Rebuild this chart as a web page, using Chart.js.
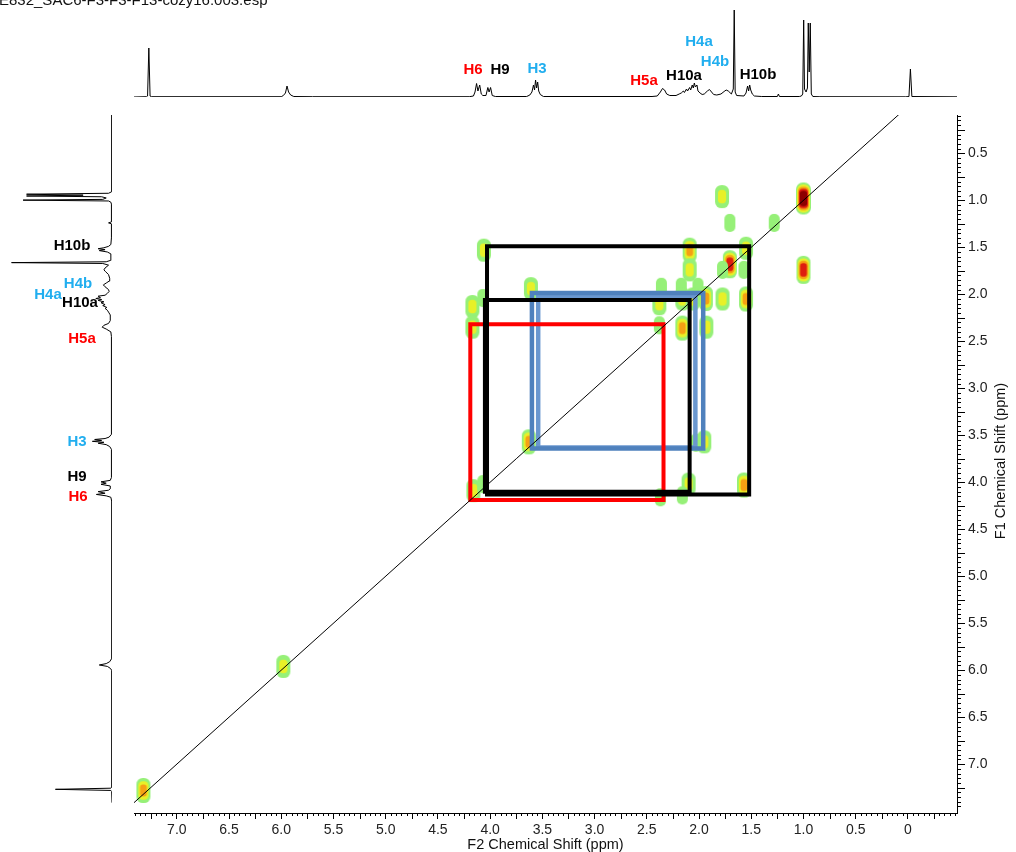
<!DOCTYPE html>
<html>
<head>
<meta charset="utf-8">
<script src="https://cdn.jsdelivr.net/npm/chart.js@4.4.1/dist/chart.umd.min.js"></script>
<style>
  html, body { margin: 0; padding: 0; background: #fff; }
  #wrap { position: relative; width: 1016px; height: 852px; overflow: hidden; }
  #wrap canvas { position: absolute; left: 0; top: 0; }
</style>
</head>
<body>
<div id="wrap">
  <canvas id="main" width="1016" height="852"></canvas>
  <canvas id="top" width="1016" height="100"></canvas>
  <canvas id="side" width="134" height="852"></canvas>
</div>
<script>
// axis ranges (ppm)
const F2_MIN = -0.47, F2_MAX = 7.41;
const F1_MIN = 0.092, F1_MAX = 7.52;

const xTicks = [7.0, 6.5, 6.0, 5.5, 5.0, 4.5, 4.0, 3.5, 3.0, 2.5, 2.0, 1.5, 1.0, 0.5, 0];
const yTicks = [0.5, 1.0, 1.5, 2.0, 2.5, 3.0, 3.5, 4.0, 4.5, 5.0, 5.5, 6.0, 6.5, 7.0];

// 1D projection (ppm, intensity)
const specPpm = [7.41, 7.29, 7.28, 7.268, 7.256, 7.245, 6.00, 5.98, 5.96, 5.945, 5.93, 5.91, 5.88, 5.70,
  4.20, 4.16, 4.145, 4.13, 4.117, 4.10, 4.085, 4.07, 4.04, 4.022, 4.01, 3.996, 3.98, 3.95,
  3.65, 3.62, 3.60, 3.585, 3.575, 3.565, 3.555, 3.545, 3.535, 3.52, 3.49,
  2.45, 2.40, 2.37, 2.35, 2.33, 2.31, 2.28, 2.22, 2.19, 2.17, 2.15, 2.14, 2.12, 2.11, 2.09, 2.08,
  2.065, 2.055, 2.045, 2.035, 2.02, 2.01, 1.99, 1.97, 1.95, 1.92, 1.90, 1.88, 1.86, 1.83,
  1.79, 1.76, 1.74, 1.72, 1.69, 1.672, 1.663, 1.654, 1.64, 1.57, 1.55, 1.535, 1.525, 1.515,
  1.505, 1.49, 1.47, 1.40, 1.25, 1.24, 1.23, 1.04, 1.02, 1.007, 0.998, 0.99, 0.975, 0.962,
  0.954, 0.945, 0.935, 0.925, 0.91, 0.85, 0.02, -0.01, -0.024, -0.038, -0.47];
const specInt = [0, 0.3, 1, 49, 1, 0.3, 0.3, 1.5, 4, 11, 5, 2, 0.5, 0.3,
  0.3, 1, 5, 13.5, 6, 12, 3, 1.5, 1.5, 9.5, 5, 9.5, 1.5, 0.5,
  0.5, 2, 5, 12, 7, 17, 9, 15, 6, 2.5, 0.5,
  0.5, 1, 5, 8.5, 7, 3, 1.5, 1.5, 3, 4, 6, 4.5, 8, 6, 9.5, 7,
  12, 9, 14, 10, 12, 6, 4, 2.5, 3, 6, 7.5, 5, 2.5, 2,
  3, 5.5, 7, 6, 3, 8, 87, 5, 1.5, 1, 4, 11, 6, 12,
  7, 3, 1, 0.5, 0.5, 3, 0.5, 0.5, 1, 3, 77, 8, 5, 9,
  74, 25, 74, 3, 0.5, 0.3, 0.2, 0.5, 28, 0.5, 0.2];

// COSY cross / diagonal peaks
const peakF2 = [1.00, 1.00, 1.705, 1.78, 1.705, 1.28, 2.09, 1.55, 4.06, 2.09, 1.775, 1.57, 2.36, 2.17,
  2.01, 2.38, 2.16, 2.06, 1.935, 1.775, 1.55, 3.61, 4.17, 4.07, 2.16, 1.93, 2.38, 4.17, 3.63,
  1.95, 2.03, 4.16, 4.07, 2.10, 2.16, 1.57, 2.37, 5.98, 7.32];
const peakF1 = [0.98, 1.74, 1.68, 0.96, 1.24, 1.24, 1.53, 1.51, 1.53, 1.74, 1.74, 1.74, 1.92, 1.92,
  1.92, 2.10, 2.05, 2.05, 2.045, 2.05, 2.05, 1.94, 2.13, 2.04, 2.36, 2.35, 2.33, 2.35, 3.57,
  3.57, 3.58, 4.09, 4.02, 4.02, 4.14, 4.03, 4.16, 5.96, 7.28];
const peakLevel = [5, 4, 4, 2, 1, 1, 3, 2, 2, 2, 1, 1, 1, 1,
  1, 2, 2, 2, 3, 2, 3, 2, 2, 1, 3, 2, 1, 2, 3,
  2, 1, 2, 1, 2, 1, 3, 1, 2, 3];

// coupling boxes (ppm)
const boxF2Left = [4.03, 4.05, 4.19, 3.60, 3.54];
const boxF2Right = [1.52, 2.09, 2.34, 1.96, 2.035];
const boxF1Top = [1.49, 2.06, 2.32, 1.985, 2.02];
const boxF1Bottom = [4.13, 4.10, 4.19, 3.64, 3.63];

const diagPpm = [7.41, 0.05];

const topLabels = ['H6', 'H9', 'H3', 'H4a', 'H4b', 'H5a', 'H10a', 'H10b'];
const sideLabels = ['H10b', 'H4b', 'H4a', 'H10a', 'H5a', 'H3', 'H9', 'H6'];

// ---- styles ----
const RED = '#ff0000', CYAN = '#21aeef', BLACK = '#000000';
const topLabelStyle = [[473, 70, RED], [500, 70, BLACK], [537, 69, CYAN], [699, 42, CYAN], [715, 62, CYAN],
  [644, 81, RED], [684, 76, BLACK], [758, 75, BLACK]];
const sideLabelStyle = [[72, 246, BLACK], [78, 284, CYAN], [48, 295, CYAN], [80, 303, BLACK], [82, 339, RED],
  [77, 442, CYAN], [77, 477, BLACK], [78, 497, RED]];
const boxColors = ['#000', '#000', '#ff0000', '#4f81bd', '#6a97cf'];
const boxWidths = [4, 4, 4, 4.5, 4.5];

const levelColors = ['rgb(150,240,120)', 'rgb(232,240,40)', 'rgb(245,160,20)', 'rgb(222,30,15)', 'rgb(140,0,0)'];
const blobW = [11, 14, 14, 14, 15], blobH = [18, 23, 25, 28, 32], blobStep = [0, 0.42, 0.26, 0.17, 0.13];

function makeBlob(level) {
  const w = blobW[level - 1], h = blobH[level - 1], step = blobStep[level - 1];
  const c = document.createElement('canvas');
  c.width = w + 2; c.height = h + 2;
  const g = c.getContext('2d');
  for (let k = 0; k < level; k++) {
    const s = 1 - k * step;
    const ww = w * s, hh = h * s;
    g.fillStyle = levelColors[k];
    g.beginPath();
    g.roundRect(c.width / 2 - ww / 2, c.height / 2 - hh / 2, ww, hh, Math.min(ww, hh) * 0.45);
    g.fill();
  }
  return c;
}
const blobs = [1, 2, 3, 4, 5].map(makeBlob);

const FONT = "'Liberation Sans', Arial, sans-serif";
const fmt = v => (v === 0 ? '0' : v.toFixed(1));

const decor = {
  id: 'decor',
  afterDraw(chart) {
    const { ctx, scales: { x, y }, chartArea: a } = chart;
    ctx.save();
    ctx.strokeStyle = '#000';
    ctx.lineWidth = 1;
    ctx.beginPath();
    for (let k = Math.ceil(F2_MIN / 0.05); k <= Math.floor(F2_MAX / 0.05); k++) {
      if (k % 10 === 0) continue;
      const px = Math.round(x.getPixelForValue(k * 0.05)) + 0.5;
      ctx.moveTo(px, a.bottom);
      ctx.lineTo(px, a.bottom + (k % 5 === 0 ? 6 : 3));
    }
    for (let k = Math.ceil(F1_MIN / 0.05); k <= Math.floor(F1_MAX / 0.05); k++) {
      if (k % 10 === 0) continue;
      const py = Math.round(y.getPixelForValue(k * 0.05)) + 0.5;
      ctx.moveTo(a.right, py);
      ctx.lineTo(a.right + (k % 5 === 0 ? 8 : 4), py);
    }
    ctx.stroke();

    ctx.fillStyle = '#111';
    ctx.font = '15px ' + FONT;
    ctx.textAlign = 'left';
    ctx.textBaseline = 'alphabetic';
    ctx.fillText('E832_SAC6-F3-F3-F13-cozy16.003.esp', -1, 5);

    ctx.font = '14.5px ' + FONT;
    ctx.textAlign = 'center';
    ctx.fillText('F2 Chemical Shift (ppm)', (a.left + a.right) / 2, 849);
    ctx.save();
    ctx.translate(1005, 461);
    ctx.rotate(-Math.PI / 2);
    ctx.fillText('F1 Chemical Shift (ppm)', 0, 0);
    ctx.restore();

    ctx.font = 'bold 15px ' + FONT;
    ctx.textBaseline = 'middle';
    topLabels.forEach((t, i) => {
      ctx.fillStyle = topLabelStyle[i][2];
      ctx.fillText(t, topLabelStyle[i][0], topLabelStyle[i][1]);
    });
    sideLabels.forEach((t, i) => {
      ctx.fillStyle = sideLabelStyle[i][2];
      ctx.fillText(t, sideLabelStyle[i][0], sideLabelStyle[i][1]);
    });
    ctx.restore();
  }
};

const boxSets = boxF2Left.map((l, i) => ({
  data: [
    { x: l, y: boxF1Top[i] }, { x: boxF2Right[i], y: boxF1Top[i] },
    { x: boxF2Right[i], y: boxF1Bottom[i] }, { x: l, y: boxF1Bottom[i] }, { x: l, y: boxF1Top[i] }
  ],
  showLine: true,
  borderColor: boxColors[i],
  borderWidth: boxWidths[i],
  borderCapStyle: 'square',
  borderJoinStyle: 'miter',
  pointRadius: 0,
  order: 1
}));

const common = {
  responsive: false,
  animation: false,
  events: [],
  plugins: { legend: { display: false }, tooltip: { enabled: false } }
};

new Chart(document.getElementById('main'), {
  type: 'scatter',
  data: {
    datasets: [
      {
        data: diagPpm.map(v => ({ x: v, y: v })),
        showLine: true, borderColor: '#000', borderWidth: 1, pointRadius: 0, order: 0
      },
      ...boxSets,
      {
        data: peakF2.map((x, i) => ({ x: x, y: peakF1[i], level: peakLevel[i] })),
        pointStyle: c => blobs[(c.raw ? c.raw.level : 1) - 1],
        pointRadius: 5,
        order: 2
      }
    ]
  },
  options: {
    ...common,
    layout: { padding: { left: 134, top: 115, right: 0, bottom: 0 } },
    scales: {
      x: {
        type: 'linear', position: 'bottom', min: F2_MIN, max: F2_MAX, reverse: true,
        afterFit: s => { s.height = 39; },
        afterBuildTicks: s => { s.ticks = xTicks.map(v => ({ value: v })); },
        grid: { drawOnChartArea: false, drawTicks: true, tickLength: 6, color: '#000' },
        border: { display: true, color: '#000', width: 1 },
        ticks: { padding: 3, color: '#222', font: { family: FONT, size: 14 }, maxRotation: 0, autoSkip: false, callback: v => fmt(v) }
      },
      y: {
        type: 'linear', position: 'right', min: F1_MIN, max: F1_MAX, reverse: true,
        afterFit: s => { s.width = 59; },
        afterBuildTicks: s => { s.ticks = yTicks.map(v => ({ value: v })); },
        grid: { drawOnChartArea: false, drawTicks: true, tickLength: 8, color: '#000' },
        border: { display: true, color: '#000', width: 1 },
        ticks: { padding: 3, color: '#222', font: { family: FONT, size: 14 }, autoSkip: false, callback: v => fmt(v) }
      }
    }
  },
  plugins: [decor]
});

// top projection
new Chart(document.getElementById('top'), {
  type: 'scatter',
  data: {
    datasets: [{
      data: specPpm.map((p, i) => ({ x: p, y: specInt[i] })),
      showLine: true, borderColor: '#000', borderWidth: 1, pointRadius: 0
    }]
  },
  options: {
    ...common,
    layout: { padding: { left: 134, right: 59, top: 7, bottom: 3 } },
    scales: {
      x: { display: false, type: 'linear', min: F2_MIN, max: F2_MAX, reverse: true },
      y: { display: false, type: 'linear', min: 0, max: 90 }
    }
  }
});

// side projection
new Chart(document.getElementById('side'), {
  type: 'scatter',
  data: {
    datasets: [{
      data: specPpm.map((p, i) => ({ x: specInt[i], y: p })),
      showLine: true, borderColor: '#000', borderWidth: 1, pointRadius: 0
    }]
  },
  options: {
    ...common,
    layout: { padding: { left: 0, right: 22, top: 115, bottom: 39 } },
    scales: {
      x: { display: false, type: 'linear', min: 0, max: 97, reverse: true },
      y: { display: false, type: 'linear', min: F1_MIN, max: F1_MAX, reverse: true }
    }
  }
});
</script>
</body>
</html>
